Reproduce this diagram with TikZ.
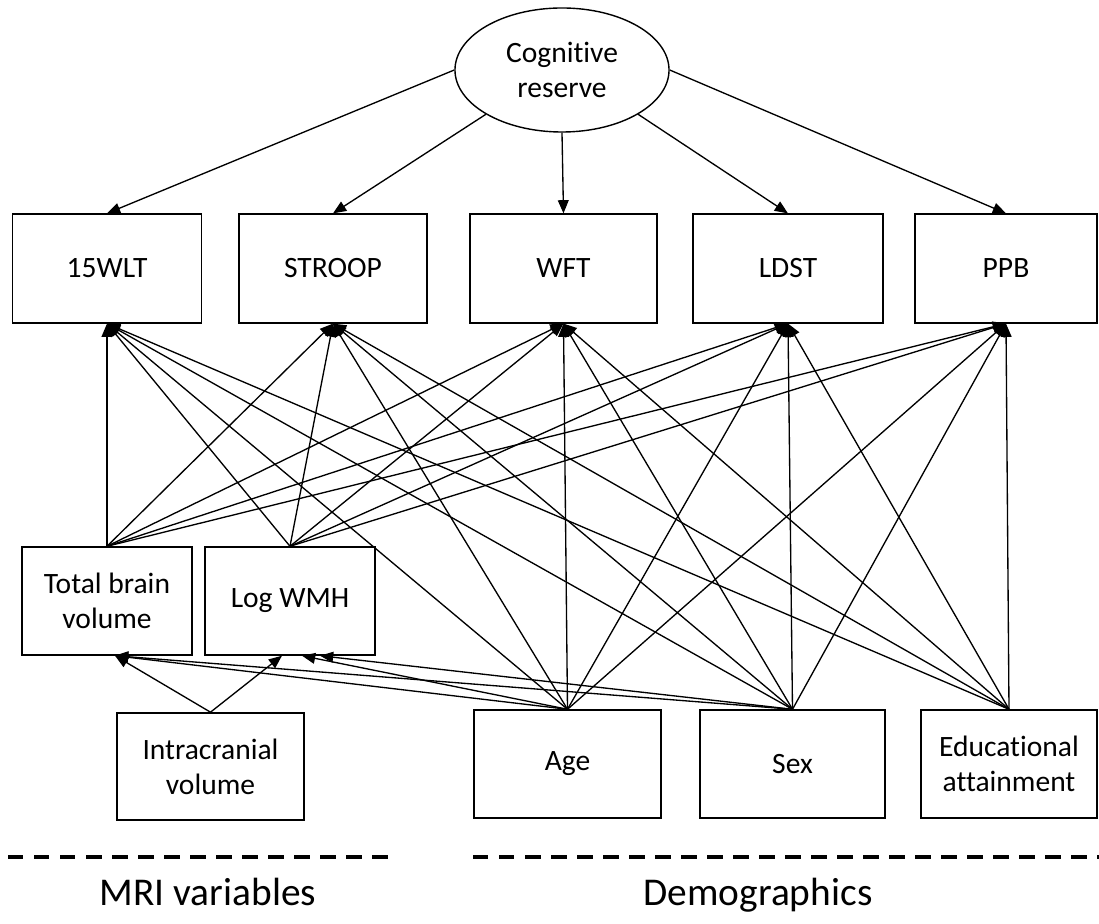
\documentclass[tikz,border=0pt]{standalone}
\usepackage{fontspec}
\setmainfont{Carlito}[Ligatures=NoCommon]
\usetikzlibrary{arrows.meta,positioning,shapes.geometric,calc}

\begin{document}
\begin{tikzpicture}[x=0.025cm,y=-0.025cm,
    box/.style={draw,line width=1pt,inner sep=0pt,align=center,font=\fontsize{21}{25}\selectfont},
    link/.style={-{Triangle[length=3.3mm,width=2.7mm]},line width=0.95pt},
    sepline/.style={line width=2.6pt,dash pattern=on 11pt off 7.5pt},
    grouplbl/.style={anchor=base,inner sep=0pt,font=\fontsize{28}{32}\selectfont}]
  \useasboundingbox[fill=white] (0,0) rectangle (1099,924);
  \node[box,ellipse,minimum width=5.35cm,minimum height=3.1cm] (cr) at (562,70) {Cognitive\\reserve};
  \foreach \nm/\x/\bw/\lbl in {wlt/107/4.72/15WLT,stroop/333/4.70/STROOP,wft/563.5/4.68/WFT,ldst/788/4.75/LDST,ppb/1006/4.55/PPB}
    \node[box,minimum width=\bw cm,minimum height=2.72cm] (\nm) at (\x,268.5) {\lbl};
  \node[box,minimum width=4.25cm,minimum height=2.7cm] (tbv) at (107,601) {Total brain\\volume};
  \node[box,minimum width=4.25cm,minimum height=2.7cm] (logwmh) at (290,601) {Log WMH};
  \node[box,minimum width=4.68cm,minimum height=2.68cm] (icv) at (210.5,766.5) {Intracranial\\volume};
  \node[box,minimum width=4.68cm,minimum height=2.7cm] (age) at (567.5,764) {Age};
  \node[box,minimum width=4.62cm,minimum height=2.7cm] (sex) at (792.5,764) {Sex};
  \node[box,minimum width=4.4cm,minimum height=2.7cm] (edu) at (1009,764) {Educational\\attainment};

  \foreach \anc/\dst in {west/wlt,south west/stroop,south/wft,south east/ldst,east/ppb}
    \draw[link] (cr.\anc) -- (\dst.north);
  \foreach \src in {tbv,logwmh,age,sex,edu}
    \foreach \dst in {wlt,stroop,wft,ldst,ppb}
      \draw[link] (\src.north) -- (\dst.south);
  \draw[link] (icv.north) -- ($(tbv.south)+(8,0)$);
  \draw[link] (icv.north) -- ($(logwmh.south)+(-8,0)$);
  \draw[link] (age.north) -- ($(tbv.south)+(8,0)$);
  \draw[link] (age.north) -- ($(logwmh.south)+(12,0)$);
  \draw[link] (sex.north) -- ($(tbv.south)+(8,0)$);
  \draw[link] (sex.north) -- ($(logwmh.south)+(30,0)$);

  \draw[sepline] (8,857) -- (395,857);
  \draw[sepline] (473,857) -- (1099,857);
  \node[grouplbl] (mri) at (208,905) {MRI variables};
  \node[grouplbl] (demo) at (758,905) {Demographics};
\end{tikzpicture}
\end{document}
